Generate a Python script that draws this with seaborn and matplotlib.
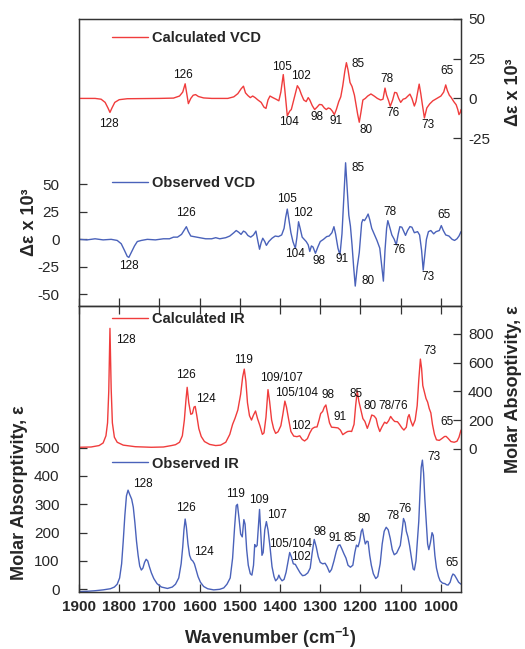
import matplotlib
matplotlib.use("Agg")
import matplotlib.pyplot as plt
import seaborn as sns

# ---------------- spectra: wavenumber (cm-1) and value ----------------
calc_vcd_wn = [1900, 1860, 1845, 1835, 1828, 1823, 1818, 1811, 1800, 1780, 1700, 1665, 1650, 1642,
               1636, 1632, 1628, 1622, 1616, 1610, 1603, 1590, 1570, 1530, 1515, 1505, 1497, 1491,
               1486, 1480, 1474, 1468, 1462, 1455, 1447, 1440, 1435, 1430, 1425, 1418, 1410, 1403,
               1398, 1392, 1388, 1382, 1376, 1372, 1365, 1357, 1352, 1347, 1341, 1335, 1330, 1326,
               1320, 1314, 1308, 1302, 1296, 1290, 1285, 1280, 1275, 1270, 1265, 1260, 1254, 1249,
               1244, 1239, 1235, 1231, 1226, 1221, 1215, 1211, 1207, 1203, 1199, 1194, 1188, 1182,
               1174, 1166, 1158, 1150, 1144, 1139, 1135, 1130, 1126, 1120, 1115, 1110, 1105, 1100,
               1094, 1088, 1082, 1077, 1072, 1066, 1062, 1057, 1054, 1050, 1046, 1041, 1035, 1028,
               1020, 1010, 1000, 993, 988, 984, 979, 975, 968, 962, 958, 955, 952, 950]
calc_vcd = [0, 0, -0.5, -2.5, -6, -8.8, -6, -2.5, -0.8, -0.2, 0, 0.2, 1.5, 4,
            9.2, 3, -3.3, 0, 2, 2.4, 1.2, 0.3, 0, 0, 1, 3, 6, 7.7,
            3.5, 1.8, 0.5, 1.5, 0.5, -1, -2.5, -5.5, -6.3, -1, 1.5, 0.5, -0.5, -1.5,
            4, 15, 5, -11, -8, -7, 0, 8, 6, 2.5, -1, -2, 0.5, -1,
            -4.5, -7, -5.5, -3.8, -4, -6, -7, -6, -6.5, -8, -10.2, -7, -2, 1,
            8, 17, 22.5, 18, 10, 7.5, 2, -4, -10, -15, -9, -1, 0, 1.5,
            2.8, 1.5, 0, -1, -0.5, 6.5, 2, -1.5, -5, -1, 3.8, 3.5, 0, -2.5,
            -0.5, 0, 1.5, 2.7, 0, -4.8, -2, 5, 9, 3, -4, -12.3, -6, -3.5,
            -1.5, 0, 1.5, 4, 8.5, 5, 2, 0.8, -2, -4, -7, -10.2, -9, -7]

obs_vcd_wn = [1900, 1880, 1860, 1840, 1820, 1805, 1795, 1787, 1780, 1776, 1770, 1762, 1755, 1745,
              1730, 1710, 1690, 1675, 1665, 1655, 1645, 1638, 1633, 1628, 1622, 1615, 1600, 1585,
              1570, 1560, 1550, 1535, 1525, 1515, 1509, 1503, 1497, 1491, 1486, 1480, 1473, 1466,
              1460, 1455, 1451, 1447, 1443, 1438, 1434, 1428, 1420, 1412, 1404, 1396, 1390, 1386,
              1382, 1378, 1373, 1368, 1362, 1358, 1354, 1350, 1345, 1340, 1335, 1330, 1326, 1322,
              1318, 1312, 1306, 1300, 1292, 1284, 1278, 1271, 1266, 1262, 1256, 1251, 1246, 1241,
              1237, 1233, 1229, 1225, 1221, 1217, 1213, 1208, 1203, 1197, 1194, 1190, 1185, 1181,
              1177, 1172, 1165, 1159, 1152, 1147, 1143, 1139, 1135, 1132, 1128, 1122, 1116, 1111,
              1106, 1102, 1097, 1092, 1088, 1083, 1077, 1072, 1066, 1058, 1053, 1048, 1044, 1040,
              1036, 1031, 1025, 1018, 1012, 1004, 999, 994, 988, 980, 972, 966, 960, 955, 950]
obs_vcd = [0, -0.5, 0.5, -0.5, 0, -1, -4, -10, -15.5, -16.4, -12, -6, -2, -1,
           0, -0.5, 0.5, 0.5, 2, 2, 4.5, 8.5, 11.5, 7, 3, 2.5, 1.5, 0.5,
           0.5, 1.5, 0.5, 1.5, 3, 6, 8, 6.5, 4.5, 7.5, 6.5, 3.5, 2, 4,
           7.5, -2, -9, -3, 1, -2, -5.5, -2, 1, 3, 2.5, 4, 10, 20,
           27.5, 18, 6, -2, -8.2, 2, 16, 10, 2, 0, -2, -5, -11, -6,
           -7, -12.7, -7, -2, 0, 2.5, 3, 6, 11.5, 5, -8, -14.3, 5, 40,
           69.6, 45, 22, 12, -5, -25, -42.5, -25, -12, 15, 18, 17, 20, 23,
           18, 10, 4, -1, -8, -25, -38, -10, 10, 17, 12, 4, 0, -5,
           5, 11.5, 11, 7, 3.6, 8, 11.6, 11, 6, 7, 4, -10, -28, -14,
           0, 7, 8, 5, 7, 8, 12.5, 8, 4, 3, 0, -1, 0.5, 3, 7]

calc_ir_wn = [1900, 1870, 1850, 1840, 1833, 1829, 1826, 1823, 1820, 1817, 1812, 1805, 1790, 1760,
              1720, 1690, 1670, 1660, 1650, 1643, 1638, 1634, 1631, 1627, 1622, 1618, 1614, 1611,
              1607, 1602, 1596, 1588, 1575, 1560, 1548, 1535, 1525, 1518, 1512, 1505, 1498, 1493,
              1489, 1485, 1481, 1476, 1471, 1466, 1461, 1456, 1450, 1444, 1440, 1435, 1430, 1426,
              1421, 1416, 1411, 1405, 1398, 1393, 1388, 1384, 1379, 1373, 1366, 1358, 1351, 1345,
              1339, 1332, 1326, 1320, 1314, 1308, 1303, 1299, 1294, 1290, 1286, 1282, 1277, 1272,
              1264, 1256, 1250, 1244, 1238, 1232, 1226, 1222, 1216, 1212, 1208, 1204, 1199, 1194,
              1189, 1183, 1178, 1172, 1166, 1161, 1157, 1152, 1147, 1140, 1135, 1130, 1125, 1120,
              1115, 1108, 1103, 1097, 1092, 1086, 1082, 1079, 1075, 1070, 1064, 1059, 1055, 1051,
              1048, 1045, 1041, 1037, 1033, 1029, 1025, 1021, 1016, 1011, 1004, 997, 991, 987,
              982, 975, 967, 960, 955, 950]
calc_ir = [10, 12, 22, 40, 90, 180, 400, 839, 420, 180, 80, 45, 25, 14,
           10, 12, 22, 28, 45, 90, 200, 340, 428, 320, 240, 245, 290, 295,
           230, 140, 85, 50, 30, 22, 25, 45, 100, 170, 212, 270, 380, 500,
           555, 470, 320, 230, 200, 235, 263, 210, 160, 100, 110, 220, 412, 330,
           200, 140, 107, 118, 160, 240, 332, 290, 210, 120, 88, 84, 90, 65,
           54, 70, 110, 140, 150, 152, 200, 245, 260, 290, 305, 250, 180, 150,
           148, 145, 130, 98, 110, 120, 122, 120, 170, 300, 402, 330, 270, 210,
           190, 142, 180, 235, 228, 210, 160, 120, 150, 185, 176, 195, 225, 205,
           190, 188, 170, 145, 130, 150, 220, 238, 195, 158, 200, 300, 480, 625,
           560, 440, 395, 350, 325, 280, 250, 170, 100, 62, 58, 72, 85, 86,
           72, 50, 45, 52, 80, 130]

obs_ir_wn = [1900, 1880, 1860, 1840, 1822, 1812, 1805, 1799, 1794, 1790, 1786, 1782, 1778, 1774,
             1769, 1765, 1761, 1757, 1753, 1749, 1745, 1741, 1737, 1733, 1729, 1725, 1720, 1714,
             1706, 1695, 1680, 1668, 1660, 1652, 1646, 1642, 1639, 1636, 1633, 1629, 1625, 1621,
             1617, 1613, 1609, 1604, 1598, 1590, 1580, 1565, 1550, 1540, 1532, 1524, 1518, 1513,
             1509, 1506, 1502, 1498, 1494, 1490, 1487, 1483, 1479, 1474, 1470, 1466, 1463, 1460,
             1457, 1454, 1451, 1448, 1445, 1442, 1438, 1434, 1430, 1425, 1420, 1415, 1411, 1406,
             1403, 1400, 1395, 1390, 1385, 1380, 1376, 1372, 1367, 1362, 1357, 1350, 1344, 1338,
             1331, 1325, 1320, 1315, 1310, 1305, 1300, 1294, 1288, 1283, 1277, 1272, 1266, 1260,
             1255, 1251, 1247, 1241, 1236, 1231, 1225, 1219, 1214, 1210, 1206, 1202, 1198, 1195,
             1191, 1188, 1184, 1181, 1177, 1173, 1168, 1162, 1157, 1151, 1146, 1141, 1136, 1131,
             1126, 1121, 1116, 1110, 1106, 1101, 1097, 1093, 1089, 1086, 1082, 1078, 1073, 1069,
             1066, 1062, 1058, 1055, 1052, 1049, 1046, 1043, 1040, 1036, 1033, 1030, 1026, 1022,
             1019, 1015, 1011, 1006, 1002, 996, 990, 986, 982, 977, 973, 970, 966, 961, 956, 950]
obs_ir = [-8, -7, -5, -2, 2, 8, 18, 40, 90, 170, 260, 330, 350, 335,
          318, 290, 235, 170, 120, 82, 68, 75, 95, 106, 100, 80, 58, 38,
          20, 8, 3, 8, 18, 40, 90, 150, 210, 248, 220, 160, 120, 105,
          100, 90, 70, 45, 25, 10, 2, -2, 0, 5, 18, 40, 110, 220,
          295, 300, 250, 195, 185, 246, 230, 140, 85, 55, 50, 85, 158, 150,
          155, 220, 282, 200, 120, 130, 210, 239, 210, 150, 80, 45, 30, 38,
          50, 40, 30, 35, 60, 100, 130, 115, 90, 88, 75, 58, 48, 50,
          58, 75, 130, 176, 150, 115, 95, 90, 92, 80, 60, 70, 100, 135,
          155, 157, 145, 125, 110, 85, 78, 85, 130, 156, 150, 170, 205, 213,
          180, 160, 170, 168, 120, 85, 55, 38, 45, 90, 160, 205, 219, 210,
          180, 140, 122, 128, 140, 155, 200, 250, 235, 205, 185, 155, 110, 72,
          68, 100, 180, 240, 340, 430, 456, 410, 320, 230, 160, 140, 165, 200,
          190, 120, 75, 45, 30, 22, 20, 16, 15, 25, 45, 54, 50, 38, 25, 18]

# ---------------- band assignments written next to the curves ----------------
calc_vcd_tags = ["128", "126", "105", "102", "104", "98", "91", "85", "80", "78", "76", "73", "65"]
calc_vcd_tag_wn = [1825, 1641, 1394, 1347, 1379, 1307, 1261, 1205, 1187, 1134, 1120, 1032, 986]
calc_vcd_tag_y = [-16, 14.7, 20, 13.8, -15, -12, -14.5, 21.7, -20, 12, -9, -17, 17]

obs_vcd_tags = ["128", "126", "105", "102", "104", "98", "91", "85", "80", "78", "76", "73", "65"]
obs_vcd_tag_wn = [1776, 1635, 1382, 1342, 1362, 1302, 1247, 1205, 1180, 1127, 1105, 1032, 993]
obs_vcd_tag_y = [-24, 24, 37, 23.6, -13.6, -19.5, -18, 65, -37.6, 25, -9.7, -34.5, 22.4]

calc_ir_tags = ["128", "126", "124", "119", "109/107", "105/104", "102", "98", "91", "85",
                "80", "78/76", "73", "65"]
calc_ir_tag_wn = [1783, 1634, 1584, 1492, 1396, 1359, 1347, 1282, 1251, 1211, 1177, 1118, 1027, 986]
calc_ir_tag_y = [758, 511, 344, 618, 493, 386, 158, 374, 223, 381, 298, 298, 683, 188]

obs_ir_tags = ["128", "126", "124", "119", "109", "107", "105/104", "102", "98", "91", "85",
               "80", "78", "76", "73", "65"]
obs_ir_tag_wn = [1740, 1634, 1589, 1512, 1452, 1407, 1373, 1347, 1300, 1264, 1227, 1191,
                 1120, 1090, 1017, 973]
obs_ir_tag_y = [372, 286, 131, 335, 315, 262, 159, 113, 203, 180, 182, 249, 259, 282, 468, 94]

RED = "#f03c3c"
BLUE = "#4a62ba"
FRAME = "#333333"

sns.set_style("ticks")
plt.rcParams["font.family"] = ["Liberation Sans", "DejaVu Sans"]
plt.rcParams["mathtext.default"] = "regular"
plt.rcParams["axes.unicode_minus"] = False
plt.rcParams["axes.edgecolor"] = FRAME
plt.rcParams["axes.linewidth"] = 0.9

W, H = 525, 649
fig = plt.figure(figsize=(W / 100, H / 100), dpi=100)


def add_axes_px(left, top, right, bottom):
    return fig.add_axes([left / W, 1 - bottom / H, (right - left) / W, (bottom - top) / H])


ax_vcd = add_axes_px(79, 19, 461, 306)
ax_ir = add_axes_px(79, 306, 461, 592)
ax_vcd_r = ax_vcd.twinx()
ax_ir_r = ax_ir.twinx()

curves = [
    (ax_vcd_r, calc_vcd_wn, calc_vcd, RED, "Calculated VCD"),
    (ax_vcd, obs_vcd_wn, obs_vcd, BLUE, "Observed VCD"),
    (ax_ir_r, calc_ir_wn, calc_ir, RED, "Calculated IR"),
    (ax_ir, obs_ir_wn, obs_ir, BLUE, "Observed IR"),
]
legend_y = {"Calculated VCD": 0.934, "Observed VCD": 0.429,
            "Calculated IR": 0.955, "Observed IR": 0.449}
for ax, xs, ys, col, name in curves:
    sns.lineplot(x=xs, y=ys, ax=ax, color=col, linewidth=1.0, label=name, sort=False)
    ax.legend(loc="center left", bbox_to_anchor=(0.087, legend_y[name]), frameon=False,
              borderaxespad=0, borderpad=0, handlelength=2.45, handletextpad=0.3,
              prop={"weight": "bold", "size": 10.5})

tag_sets = [
    (ax_vcd_r, calc_vcd_tags, calc_vcd_tag_wn, calc_vcd_tag_y),
    (ax_vcd, obs_vcd_tags, obs_vcd_tag_wn, obs_vcd_tag_y),
    (ax_ir_r, calc_ir_tags, calc_ir_tag_wn, calc_ir_tag_y),
    (ax_ir, obs_ir_tags, obs_ir_tag_wn, obs_ir_tag_y),
]
for ax, tags, xs, ys in tag_sets:
    for t, x, y in zip(tags, xs, ys):
        ax.text(x, y, t, ha="center", va="center", fontsize=8.5, color="#111111")

# axis ranges and ticks
for ax in (ax_vcd, ax_ir, ax_vcd_r, ax_ir_r):
    ax.set_xlim(1900, 950)
    ax.set_xlabel("")
    ax.set_ylabel("")
ax_vcd.set_ylim(-60.6, 200.3)
ax_vcd_r.set_ylim(-130.7, 50)
ax_ir.set_ylim(-9.5, 1000)
ax_ir_r.set_ylim(-999, 995)

ax_vcd.set_yticks([-50, -25, 0, 25, 50])
ax_vcd_r.set_yticks([-25, 0, 25, 50])
ax_ir.set_yticks([0, 100, 200, 300, 400, 500])
ax_ir_r.set_yticks([0, 200, 400, 600, 800])
xt = list(range(1900, 999, -100))
ax_vcd.set_xticks(xt)
ax_ir.set_xticks(xt)

tick_kw = dict(direction="in", length=6, width=0.9, color=FRAME, labelsize=11)
ax_vcd.tick_params(axis="x", bottom=True, top=False, labelbottom=False, **tick_kw)
ax_ir.tick_params(axis="x", bottom=True, top=True, labelbottom=True, pad=6, **tick_kw)
for lab in ax_ir.get_xticklabels():
    lab.set_fontweight("bold")
for ax in (ax_vcd, ax_ir):
    ax.tick_params(axis="y", left=True, right=False, pad=14, **tick_kw)
for ax in (ax_vcd_r, ax_ir_r):
    ax.tick_params(axis="y", right=True, left=False, pad=5, **tick_kw)
for ax in (ax_vcd, ax_ir, ax_vcd_r, ax_ir_r):
    for s in ax.spines.values():
        s.set_visible(True)
        s.set_color(FRAME)

# axis titles
lab_kw = dict(rotation=90, ha="center", va="center", fontsize=13, fontweight="bold")
fig.text(29 / W, 1 - 222 / H, "Δε x 10³", **lab_kw)
fig.text(20 / W, 1 - 493 / H, "Molar Absorptivity, ε", **lab_kw)
fig.text(513 / W, 1 - 92 / H, "Δε x 10³", **lab_kw)
fig.text(514 / W, 1 - 389 / H, "Molar Absoptivity, ε", **lab_kw)
fig.text(270 / W, 1 - 638 / H, "Wavenumber (cm$^{-1}$)", ha="center", va="center",
         fontsize=13, fontweight="bold")

fig.savefig("out.png", dpi=100)
